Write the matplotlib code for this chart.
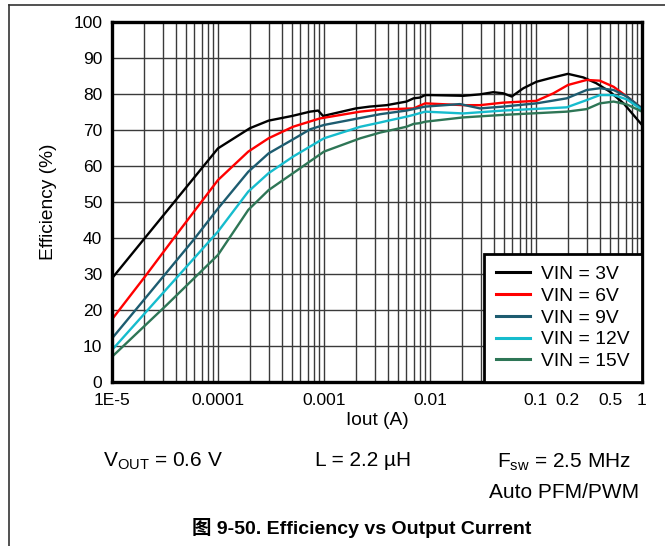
import matplotlib
matplotlib.use("Agg")
import matplotlib.pyplot as plt
from matplotlib.lines import Line2D
from matplotlib.ticker import FixedLocator, FixedFormatter, LogLocator, NullFormatter

plt.rcParams['font.family'] = ['Liberation Sans', 'Noto Sans CJK SC', 'DejaVu Sans']
plt.rcParams['mathtext.fontset'] = 'custom'
plt.rcParams['mathtext.rm'] = 'Liberation Sans'

# ---- data ----
i_3v = [1e-5, 1e-4, 2e-4, 3e-4, 5e-4, 7.4e-4, 8.8e-4, 9.8e-4, 2e-3, 2.7e-3, 3.9e-3, 6e-3, 7e-3,
        8e-3, 9e-3, 1e-2, 2.06e-2, 2.96e-2, 3.95e-2, 4.9e-2, 5.9e-2, 7.6e-2, 0.101, 0.136, 0.2,
        0.28, 0.37, 0.5, 0.67, 1.0]
e_3v = [28.8, 64.9, 70.5, 72.6, 73.9, 75.1, 75.4, 73.9, 76.0, 76.5, 76.9, 77.9, 78.8,
        79.0, 79.7, 79.7, 79.5, 79.9, 80.5, 80.2, 79.3, 81.6, 83.4, 84.4, 85.6,
        84.6, 83.0, 80.6, 77.4, 71.4]

i_6v = [1e-5, 2.05e-5, 3.93e-5, 1e-4, 1.93e-4, 3e-4, 5.1e-4, 9.1e-4, 2.2e-3, 3.4e-3, 7e-3, 9e-3,
        2.06e-2, 2.96e-2, 4.9e-2, 0.101, 0.146, 0.2, 0.3, 0.4, 0.54, 0.72, 1.0]
e_6v = [17.4, 29.3, 40.4, 56.1, 64.0, 67.7, 70.9, 73.2, 75.1, 75.7, 76.0, 77.4,
        76.9, 76.9, 77.6, 78.1, 80.2, 82.5, 83.9, 83.7, 82.0, 79.3, 76.0]

i_9v = [1e-5, 5.85e-5, 1e-4, 1.93e-4, 3e-4, 5.1e-4, 7.4e-4, 1e-3, 3.4e-3, 6e-3, 9e-3, 1.92e-2,
        2.96e-2, 4.9e-2, 0.101, 0.195, 0.3, 0.4, 0.54, 0.72, 1.0]
e_9v = [12.1, 39.4, 48.2, 58.4, 63.5, 67.4, 70.2, 71.4, 74.4, 75.4, 76.5, 77.2,
        76.0, 76.5, 77.4, 78.8, 81.1, 81.6, 81.1, 79.3, 76.0]

i_12v = [1e-5, 1e-4, 1.93e-4, 3e-4, 5.1e-4, 1e-3, 2.2e-3, 3.4e-3, 3.9e-3, 6e-3, 7e-3, 9e-3,
         2.06e-2, 4.9e-2, 0.195, 0.3, 0.4, 0.54, 0.72, 1.0]
e_12v = [8.9, 41.8, 52.9, 58.0, 62.6, 67.7, 70.9, 72.1, 72.5, 73.7, 74.2, 75.1,
         74.6, 75.4, 76.3, 78.3, 79.7, 79.7, 78.5, 75.6]

i_15v = [1e-5, 3.28e-5, 1e-4, 1.93e-4, 3e-4, 5.1e-4, 1e-3, 2.2e-3, 3.4e-3, 6e-3, 7e-3, 8e-3,
         9e-3, 2.06e-2, 4.9e-2, 0.195, 0.3, 0.4, 0.54, 0.72, 1.0]
e_15v = [7.0, 21.4, 35.3, 47.8, 53.3, 58.0, 64.0, 67.7, 69.3, 70.9, 71.7, 71.9,
         72.3, 73.5, 74.2, 75.1, 75.8, 77.4, 77.9, 77.1, 75.1]

series_labels = ['VIN = 3V', 'VIN = 6V', 'VIN = 9V', 'VIN = 12V', 'VIN = 15V']
series_colors = ['#000000', '#ff0000', '#1d5c70', '#16bccd', '#2e7656']

x_ticks = [1e-5, 1e-4, 1e-3, 1e-2, 0.1, 0.2, 0.5, 1]
x_tick_labels = ['1E-5', '0.0001', '0.001', '0.01', '0.1', '0.2', '0.5', '1']
y_ticks = [0, 10, 20, 30, 40, 50, 60, 70, 80, 90, 100]

# ---- figure ----
W, H = 665, 546
fig = plt.figure(figsize=(W / 100, H / 100), dpi=100)
ax = fig.add_axes([112 / W, 1 - 382 / H, (642 - 112) / W, (382 - 22) / H])

xs = [i_3v, i_6v, i_9v, i_12v, i_15v]
ys = [e_3v, e_6v, e_9v, e_12v, e_15v]
for x, y, lab, col in zip(xs, ys, series_labels, series_colors):
    ax.plot(x, y, color=col, lw=1.7, label=lab, zorder=3)

ax.set_xscale('log')
ax.set_xlim(1e-5, 1)
ax.set_ylim(0, 100)

ax.xaxis.set_major_locator(FixedLocator(x_ticks))
ax.xaxis.set_major_formatter(FixedFormatter(x_tick_labels))
ax.xaxis.set_minor_locator(LogLocator(base=10, subs=range(2, 10), numticks=20))
ax.xaxis.set_minor_formatter(NullFormatter())
ax.set_yticks(y_ticks)

ax.tick_params(axis='both', which='both', length=0, labelsize=12.5)
ax.tick_params(axis='x', pad=8)
ax.tick_params(axis='y', pad=7)

ax.grid(True, which='both', axis='x', color='#3a3a3a', lw=1.0, zorder=1)
ax.grid(True, which='major', axis='y', color='#3a3a3a', lw=1.0, zorder=1)

for s in ax.spines.values():
    s.set_linewidth(2.4)
    s.set_color('black')
    s.set_zorder(5)

ax.set_xlabel('Iout (A)', fontsize=13.8, labelpad=3)
ax.set_ylabel('Efficiency (%)', fontsize=13.8, labelpad=12)

leg = ax.legend(loc='lower right', bbox_to_anchor=(1.0, 0.0), fontsize=13.9,
                frameon=True, fancybox=False, framealpha=1, edgecolor='black',
                handlelength=1.75, handletextpad=0.6, labelspacing=0.22,
                borderpad=0.62, borderaxespad=0.0)
leg.get_frame().set_linewidth(2.0)
leg.set_zorder(6)
for lh in leg.get_lines():
    lh.set_linewidth(2.2)

# annotations under the chart
def fx(px):
    return px / W

def fy(py):
    return 1 - py / H

fig.text(fx(103), fy(466), r'V$_{\mathregular{OUT}}$ = 0.6 V', fontsize=15, ha='left', va='baseline')
fig.text(fx(315), fy(466), 'L = 2.2 µH', fontsize=15, ha='left', va='baseline')
fig.text(fx(497), fy(467), r'F$_{\mathregular{sw}}$ = 2.5 MHz', fontsize=15, ha='left', va='baseline')
fig.text(fx(639), fy(498), 'Auto PFM/PWM', fontsize=15, ha='right', va='baseline')
fig.text(fx(362), fy(528), '图 9-50. Efficiency vs Output Current', fontsize=14, fontweight='bold',
         ha='center', va='center', family=['Liberation Sans', 'Noto Sans CJK SC'])

# partial frame (left and top lines)
fig.add_artist(Line2D([fx(8.5), fx(8.5)], [0, fy(4.5)], color='#333333', lw=1.2))
fig.add_artist(Line2D([fx(8.5), 1], [fy(4.5), fy(4.5)], color='#333333', lw=1.2))

fig.savefig('out.png', dpi=100)
